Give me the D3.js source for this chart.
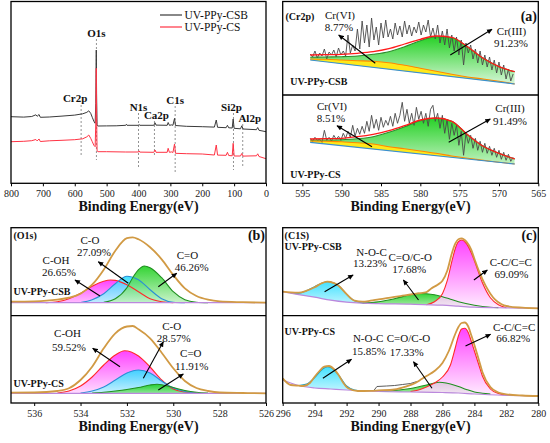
<!DOCTYPE html>
<html>
<head>
<meta charset="utf-8">
<script src="https://cdn.jsdelivr.net/npm/d3@7"></script>
<style>
body{margin:0;background:#fff}
svg{display:block}
</style>
</head>
<body>
<svg id="chart" width="550" height="443"></svg>
<script>
// ---------- survey spectrum [binding energy, intensity] ----------
var surveyTicks = [800, 700, 600, 500, 400, 300, 200, 100, 0];
var surveyCSB = [[800,66.6],[760,66.2],[735,66.8],[722,68.5],[718,67],[712,68.8],[708,66],[680,66.3],[640,67.2],[600,68.2],[575,69.5],[562,71],[556,72.5],[550,70],[545,66],[540,62],[536,60],[534,80],[532.5,133.3],[531.5,90],[530,58],[527,57.3],[500,57.4],[470,57.5],[440,58],[438,59],[436,58],[400,58],[398,58.8],[396,58],[352,58],[348,60.5],[345,58.2],[310,58],[307,60.8],[303,58],[296,58.4],[292,58],[287,64.9],[284,57.8],[250,57],[200,56.6],[162,56.2],[156,63.3],[152,56],[125,55.6],[121,58],[117,55.5],[106,55.3],[103,64.3],[100,55],[80,54.5],[76,57.5],[72,54.3],[30,53.6],[26,55.8],[22,53],[0,51.6]];
var surveyCS = [[800,41.6],[760,42],[735,42.6],[722,43.8],[718,42.4],[712,44.3],[708,41.8],[680,42.5],[640,43],[600,43.6],[575,44.5],[562,46.5],[556,48.3],[550,45],[545,41.6],[540,38],[536,36.6],[534,60],[532.5,115],[531.5,70],[530,32.5],[527,31.6],[500,31.6],[440,31.3],[400,31.3],[398,32.4],[396,31.2],[352,31],[348,33.3],[345,31],[310,31],[307,35],[303,31],[296,31.4],[292,30.8],[287,39.3],[284,30],[250,29.6],[200,29.3],[162,28.3],[156,38.3],[152,28.2],[125,28],[121,31],[117,27.8],[106,27.5],[103,40],[100,27.3],[80,27.3],[76,29.8],[72,27.2],[30,27.5],[26,29.5],[22,26.8],[0,24.6]];
var surveyPeakNames = ["Cr2p", "O1s", "N1s", "Ca2p", "C1s", "Si2p", "Al2p"];
var surveyPeakEnergy = [580, 532, 400, 350, 285, 102, 73];
var seriesNames = ["UV-PPy-CSB", "UV-PPy-CS"];

// ---------- Cr2p ----------
var crTicks = [595, 590, 585, 580, 575, 570, 565];
var crFitEnergy = [594, 592, 590, 588, 586, 584, 582, 580, 578, 576, 574, 572, 570, 568];
var crCSBEnvelope = [40, 40.3, 40.7, 41.7, 43.3, 46.3, 51, 55.7, 59, 57.7, 48.3, 36.7, 28.3, 23.3];
var crCSBCr3 = [37.7, 38, 38.3, 39, 40.7, 43.3, 48.3, 54.3, 58.3, 57.3, 48.3, 36.7, 28.3, 23.3];
var crCSBCr6 = [36, 35.7, 35, 34.3, 33.7, 32.3, 29.7, 26.7, 23.7, 20.7, 18, 16, 13.7, 11];
var crCSBBase = [[594, 35], [568, 11]];
var crCSEnvelope = [44.3, 44.6, 45, 46.6, 49, 52.6, 57.6, 63.3, 65.3, 62, 48.6, 37, 30, 24.3];
var crCSCr3 = [43.3, 43.3, 43.6, 44.6, 46.6, 51, 56.6, 62.6, 65.3, 62, 48.6, 37, 30, 24.3];
var crCSCr6 = [42.3, 42, 41.6, 40.6, 39.3, 36.6, 34.6, 32.3, 30, 27.3, 25, 23, 21, 19.3];
var crCSBase = [[594, 41], [568, 19.3]];
var crRawEnergy = [594.0,593.7,593.4,593.1,592.8,592.5,592.2,591.9,591.6,591.3,591.0,590.7,590.4,590.1,589.8,589.5,589.2,588.9,588.6,588.3,588.0,587.7,587.4,587.1,586.8,586.5,586.2,585.9,585.6,585.3,585.0,584.7,584.4,584.1,583.8,583.5,583.2,582.9,582.6,582.3,582.0,581.7,581.4,581.1,580.8,580.5,580.2,579.9,579.6,579.3,579.0,578.7,578.4,578.1,577.8,577.5,577.2,576.9,576.6,576.3,576.0,575.7,575.4,575.1,574.8,574.5,574.2,573.9,573.6,573.3,573.0,572.7,572.4,572.1,571.8,571.5,571.2,570.9,570.6,570.3,570.0,569.7,569.4,569.1,568.8,568.5,568.2];
var crCSBRaw = [41,38,44,37,42,39,46,36,43,40,45,38,47,40,44,39,60,42,50,44,66,46,74,52,70,48,77,55,68,50,72,57,75,58,66,56,72,60,69,58,74,61,70,59,68,62,73,60,70,63,75,58,67,56,70,52,64,50,66,47,60,44,58,40,55,30,52,42,50,36,46,32,44,30,40,28,38,25,35,22,33,20,30,16,26,14,21];
var crCSRaw = [45,42,46,43,44,41,53,43,46,42,48,44,47,43,50,45,52,46,58,47,55,49,57,50,62,52,68,55,64,53,66,56,63,58,67,57,70,60,68,81,62,74,60,70,58,76,64,72,60,70,57,74,78,62,70,55,68,50,64,44,60,48,58,38,52,28,50,40,48,35,45,33,42,31,40,30,37,28,35,26,33,24,31,23,29,22,26];

// ---------- O1s ----------
var o1sTicks = [536, 534, 532, 530, 528, 526];
var o1sCSBBase = [[537, 13], [526, 13]];
var o1sCSBEnvelope = [[537,14],[536,14.3],[535,16],[534.5,18],[534,22],[533.5,31],[533,46],[532.5,65],[532,77.5],[531.75,78.4],[531.5,76.4],[531,68.4],[530.5,56.4],[530,40.7],[529.5,27.3],[529,19.7],[528.5,16],[528,14.3],[527,13.5],[526,13]];
var o1sCSBCOH = [[535.5,13],[535,14],[534.5,17],[534,22.5],[533.5,29.5],[533,34.5],[532.7,35.7],[532.5,35.3],[532,31],[531.5,24],[531,17],[530.5,14],[530,13]];
var o1sCSBCO = [[534,13.2],[533.5,16],[533,22],[532.5,32],[532,39.5],[531.5,36],[531,26],[530.5,17],[530,13.5],[529.5,13]];
var o1sCSBCdO = [[533,13.5],[532.5,17],[532,28],[531.75,38],[531.5,46],[531.25,49.7],[531,48],[530.5,38],[530,24],[529.5,16],[529,13.5],[528.5,13]];
var o1sCSBase = [[537, 9.7], [526, 9.7]];
var o1sCSEnvelope = [[537,10.3],[536,10.5],[535,12],[534.5,14.7],[534,23],[533.5,36.3],[533,54.7],[532.5,69.7],[532,76.5],[531.75,77],[531.5,73.7],[531,64.7],[530.5,50.3],[530,34.7],[529.5,22],[529,15],[528.5,12],[528,10.5],[527,10],[526,9.7]];
var o1sCSCOH = [[535,10],[534.5,12],[534,17],[533.5,26],[533,38],[532.5,48],[532.1,52.3],[531.5,47],[531,36],[530.5,23],[530,14],[529.5,11],[529,10]];
var o1sCSCO = [[534,10],[533.5,12],[533,16],[532.5,23],[532,30],[531.5,33],[531,30],[530.5,22],[530,15],[529.5,11.5],[529,10]];
var o1sCSCdO = [[533.5,10],[533,10.8],[532.5,12],[532,13.5],[531.5,15.5],[531,18],[530.7,18.7],[530.5,18.3],[530,15.5],[529.5,12.5],[529,10.7],[528.5,10]];

// ---------- C1s ----------
var c1sTicks = [296, 294, 292, 290, 288, 286, 284, 282, 280];
var c1sCSBBase = [[296,24],[295,21],[294,18.5],[293,15.5],[292,13.5],[291,12.5],[290,12],[288,11.5],[286,10.5],[285,9.5],[284,8.5],[282,7.8],[280,7.3]];
var c1sCSBEnvelope = [[296,24],[295.5,23.3],[295,23],[294.5,25],[294,28.5],[293.5,32.8],[293.2,34],[293,33.7],[292.5,30],[292,21.5],[291.5,15],[291,14],[290.5,15],[290,16.3],[289.5,17.5],[289,18.8],[288.5,20],[288,21.2],[287.5,22.3],[287,23.5],[286.7,27.3],[286.3,31],[286,35],[285.7,45],[285.4,63],[285.2,72],[285,76.5],[284.8,77.3],[284.5,74],[284.2,66],[284,57],[283.7,44],[283.3,30],[283,22],[282.7,16],[282.3,11.5],[282,9.7],[281,8],[280,7.3]];
var c1sCSBNOC = [[295.5,22.6],[295,22.5],[294.5,25],[294,29],[293.5,33],[293.2,34],[293,33.7],[292.5,30],[292,21.5],[291.5,15],[291,12.8],[290.5,12.2]];
var c1sCSBCO = [[291,12.5],[290,14],[289,17],[288,21],[287.5,22.3],[287,22],[286.5,21],[286,19],[285.5,16.5],[285,14],[284,10.5],[283,8.5],[282.5,8.1]];
var c1sCSBCC = [[287,11],[286.5,14],[286,22],[285.7,35],[285.4,55],[285.2,67],[285,74],[284.8,75.7],[284.5,72],[284.2,63],[284,55],[283.5,33],[283,18],[282.5,11],[282,8]];
var c1sCSBase = [[296,23],[295.5,20],[295,17.5],[294,15],[293,14],[292,13],[290,11.5],[288,11],[286,10.5],[285,10],[284,9],[282,7.7],[280,7]];
var c1sCSEnvelope = [[296,24.7],[295.5,18],[295,17.3],[294.7,17],[294.3,20],[294,26.3],[293.7,32],[293.4,36.3],[293.1,37],[292.8,34],[292.5,28],[292.2,20],[291.9,14.7],[291.3,12],[290.5,12.2],[290,12.6],[289,13.5],[288.3,16.3],[287.7,20],[287.3,24],[287,27],[286.5,32],[286,40],[285.6,52],[285.2,69],[285,76],[284.8,80],[284.6,80.5],[284.4,77],[284.2,68],[284,58],[283.7,42],[283.5,31],[283,16],[282.5,10.5],[282,8.7],[281,7.5],[280,7]];
var c1sCSNOC = [[295,17.5],[294.5,19],[294,25.5],[293.5,34],[293.2,36.3],[293,35.5],[292.5,28],[292,17],[291.5,13],[291,12.3]];
var c1sCSCO = [[290,11.6],[289,12.5],[288,14.5],[287,18],[286.5,20],[286.2,20.7],[286,20.5],[285.5,19],[285,16.5],[284.5,13.5],[284,11],[283.5,9.8],[283,9]];
var c1sCSCC = [[288,11.5],[287.5,13],[287,16],[286.5,20],[286,26],[285.5,38],[285.2,55],[285,67],[284.8,74],[284.6,74.7],[284.4,71],[284.2,62],[284,52],[283.7,37],[283.5,27],[283,14],[282.5,9.5],[282,8]];
var c1sCSRaw = [[290.3,12.4],[290.1,16.5],[289.5,17],[289,17.5],[288.5,18.5],[288,19.5],[287.6,21.5]];

// ---------- setup ----------
var SERIF = "Liberation Serif, DejaVu Serif, Times New Roman, serif";
var svg = d3.select("#chart").attr("font-family", SERIF);
var defs = svg.append("defs");

function zip(xs, ys){ return xs.map(function(e, i){ return [e, ys[i]]; }); }

function gradient(id, color){
	var lg = defs.append("linearGradient").attr("id", id)
		.attr("x1", 0).attr("y1", 0).attr("x2", 0).attr("y2", 1);
	lg.append("stop").attr("offset", "0%").attr("stop-color", color);
	lg.append("stop").attr("offset", "100%").attr("stop-color", "#ffffff");
}
gradient("gPink", "#ff22ff");
gradient("gCyan", "#22dcff");
gradient("gGreen", "#10cc10");

defs.append("marker").attr("id", "arrow")
	.attr("viewBox", "0 0 10 10").attr("refX", 9).attr("refY", 5)
	.attr("markerWidth", 5.5).attr("markerHeight", 5).attr("orient", "auto")
	.append("path").attr("d", "M0,0.5L10,5L0,9.5Z").attr("fill", "#000");

function txt(s, x, y, o){
	o = o || {};
	return svg.append("text").attr("x", x).attr("y", y)
		.attr("font-family", SERIF)
		.attr("font-size", o.size || 11)
		.attr("font-weight", o.bold ? "bold" : "normal")
		.attr("text-anchor", o.anchor || "middle")
		.attr("fill", "#111")
		.text(s);
}

function arrow(a){
	svg.append("line").attr("x1", a[0]).attr("y1", a[1]).attr("x2", a[2]).attr("y2", a[3])
		.attr("stroke", "#000").attr("stroke-width", 1.1).attr("marker-end", "url(#arrow)");
}

function bottomAxis(x, yPos, ticks){
	var g = svg.append("g").attr("transform", "translate(0," + yPos + ")")
		.call(d3.axisBottom(x).tickValues(ticks).tickSize(3).tickSizeOuter(0).tickPadding(4));
	g.attr("font-family", SERIF);
	g.select(".domain").remove();
	g.selectAll("line").attr("stroke", "#000");
	g.selectAll("text").attr("font-size", 10).attr("fill", "#222").attr("font-family", SERIF);
}

function frame(x0, y0, x1, y1, divider){
	svg.append("rect").attr("x", x0).attr("y", y0).attr("width", x1 - x0).attr("height", y1 - y0)
		.attr("fill", "none").attr("stroke", "#000").attr("stroke-width", 1.3);
	if (divider) svg.append("line").attr("x1", x0).attr("x2", x1).attr("y1", divider).attr("y2", divider)
		.attr("stroke", "#000").attr("stroke-width", 1.3);
}

// one fitted sub-spectrum: fills clipped above the baseline, then lines
var clipCount = 0;
function drawFit(x, y, top, bottom, base, comps, env, envStyle, raw){
	var id = "clip" + (clipCount++);
	var smooth = d3.curveMonotoneX;
	defs.append("clipPath").attr("id", id).append("path")
		.attr("d", d3.area().x(function(d){return x(d[0]);}).y0(top).y1(function(d){return y(d[1]);}).curve(smooth)(base));
	var area = d3.area().x(function(d){return x(d[0]);}).y0(bottom).y1(function(d){return y(d[1]);}).curve(smooth);
	var line = d3.line().x(function(d){return x(d[0]);}).y(function(d){return y(d[1]);}).curve(smooth);

	comps.forEach(function(c){
		svg.append("path").attr("d", area(c.pts)).attr("fill", c.fill)
			.attr("fill-opacity", c.opacity || 0.85).attr("clip-path", "url(#" + id + ")");
	});
	if (raw) {
		svg.append("path").attr("d", d3.line().x(function(d){return x(d[0]);}).y(function(d){return y(d[1]);})(raw))
			.attr("fill", "none").attr("stroke", "#4a4a4a").attr("stroke-width", 0.9);
	}
	comps.forEach(function(c){
		svg.append("path").attr("d", line(c.pts)).attr("fill", "none")
			.attr("stroke", c.stroke).attr("stroke-width", 1.1);
	});
	svg.append("path").attr("d", line(base)).attr("fill", "none")
		.attr("stroke", envStyle.base).attr("stroke-width", 1.2);
	svg.append("path").attr("d", line(env)).attr("fill", "none")
		.attr("stroke", envStyle.color).attr("stroke-width", envStyle.width);
}

// ---------- survey panel ----------
var sx = d3.scaleLinear().domain([800, 0]).range([11, 266]);
var sy = d3.scaleLinear().domain([0, 181.3]).range([183.3, 2]);
var surveyLayout = [
	{dx: -6, ty: 102, y1: 105, y2: 157},
	{dx: 0, ty: 37, y1: 39, y2: 160},
	{dx: 0, ty: 111, y1: 113, y2: 168},
	{dx: 2, ty: 119, y1: 121, y2: 157},
	{dx: 0, ty: 104, y1: 106, y2: 172},
	{dx: -2, ty: 111, y1: 113, y2: 170},
	{dx: 7, ty: 122, y1: 124, y2: 166}
];
surveyPeakEnergy.forEach(function(e, i){
	var L = surveyLayout[i];
	svg.append("line").attr("x1", sx(e)).attr("x2", sx(e)).attr("y1", L.y1).attr("y2", L.y2)
		.attr("stroke", "#777").attr("stroke-width", 0.8).attr("stroke-dasharray", "2,2");
	txt(surveyPeakNames[i], sx(e) + L.dx, L.ty, {bold: true, size: 11});
});
var sline = d3.line().x(function(d){return sx(d[0]);}).y(function(d){return sy(d[1]);});
var surveyColors = ["#3a3a3a", "#ff3344"];
[surveyCSB, surveyCS].forEach(function(s, i){
	svg.append("path").attr("d", sline(s)).attr("fill", "none")
		.attr("stroke", surveyColors[i]).attr("stroke-width", 1);
});
seriesNames.forEach(function(n, i){
	var ly = 15 + i * 12;
	svg.append("line").attr("x1", 160).attr("x2", 182).attr("y1", ly).attr("y2", ly)
		.attr("stroke", surveyColors[i]).attr("stroke-width", 1.2);
	txt(n, 184.5, ly + 4, {anchor: "start", size: 11.5});
});
bottomAxis(sx, 183.3, surveyTicks);
frame(11, 1.5, 266, 183.3);
txt("Binding Energy(eV)", 138.5, 211, {bold: true, size: 14});

// ---------- Cr2p panel ----------
var cx = d3.scaleLinear().domain([597.5, 565]).range([282.7, 538.3]);
var crTopY = d3.scaleLinear().domain([0, 93.5]).range([95, 1.5]);
var crBotY = d3.scaleLinear().domain([0, 88.3]).range([183.3, 95]);
var crStyle = {color: "#ff1a1a", width: 1.3, base: "#3a8fd0"};
drawFit(cx, crTopY, 1.5, 95, crCSBBase, [
	{pts: zip(crFitEnergy, crCSBCr3), fill: "url(#gGreen)", stroke: "#2c8c2c", opacity: 0.9},
	{pts: zip(crFitEnergy, crCSBCr6), fill: "#ffe81a", stroke: "#ff8800", opacity: 1}
], zip(crFitEnergy, crCSBEnvelope), crStyle, zip(crRawEnergy, crCSBRaw));
drawFit(cx, crBotY, 95, 183.3, crCSBase, [
	{pts: zip(crFitEnergy, crCSCr3), fill: "url(#gGreen)", stroke: "#2c8c2c", opacity: 0.9},
	{pts: zip(crFitEnergy, crCSCr6), fill: "#ffe81a", stroke: "#ff8800", opacity: 1}
], zip(crFitEnergy, crCSEnvelope), crStyle, zip(crRawEnergy, crCSRaw));
bottomAxis(cx, 183.3, crTicks);
frame(282.7, 1.5, 538.3, 183.3, 95);
txt("Binding Energy(eV)", 410.5, 211, {bold: true, size: 14});

var crLabels = [
	["(Cr2p)", 285.5, 19.5, {bold: true, size: 10, anchor: "start"}],
	["(a)", 537, 21, {bold: true, size: 14, anchor: "end"}],
	["Cr(VI)", 340, 18.5], ["8.77%", 339, 30.5],
	["Cr(III)", 511.5, 35], ["91.23%", 511, 47],
	[seriesNames[0], 290.3, 85, {bold: true, size: 10, anchor: "start"}],
	["Cr(VI)", 332, 109.5], ["8.51%", 331, 122],
	["Cr(III)", 510, 112], ["91.49%", 510, 124.5],
	[seriesNames[1], 290.3, 177.5, {bold: true, size: 10, anchor: "start"}]
];
var crArrows = [[375.3, 63.3, 338.7, 35], [450.3, 55, 492, 29.3], [372, 146.7, 337, 125.7], [448.7, 142.3, 490.3, 119]];

// ---------- O1s panel ----------
var ox = d3.scaleLinear().domain([537, 526]).range([11, 266]);
var oTopY = d3.scaleLinear().domain([0, 88]).range([315.7, 227.7]);
var oBotY = d3.scaleLinear().domain([0, 87.3]).range([403, 315.7]);
var fitStyle = {color: "#d19a44", width: 1.8, base: "#bb88dd"};
drawFit(ox, oTopY, 227.7, 315.7, o1sCSBBase, [
	{pts: o1sCSBCOH, fill: "url(#gPink)", stroke: "#ff2a2a"},
	{pts: o1sCSBCO, fill: "url(#gCyan)", stroke: "#2a8fd6"},
	{pts: o1sCSBCdO, fill: "url(#gGreen)", stroke: "#1f8f1f"}
], o1sCSBEnvelope, fitStyle);
drawFit(ox, oBotY, 315.7, 403, o1sCSBase, [
	{pts: o1sCSCOH, fill: "url(#gPink)", stroke: "#ff2a2a"},
	{pts: o1sCSCO, fill: "url(#gCyan)", stroke: "#2a8fd6"},
	{pts: o1sCSCdO, fill: "url(#gGreen)", stroke: "#1f8f1f"}
], o1sCSEnvelope, fitStyle);
bottomAxis(ox, 403, o1sTicks);
frame(11, 227.7, 266, 403, 315.7);
txt("Binding Energy(eV)", 138.5, 431, {bold: true, size: 14});

var oLabels = [
	["(O1s)", 13.5, 238.5, {bold: true, size: 10, anchor: "start"}],
	["(b)", 265, 240, {bold: true, size: 14, anchor: "end"}],
	["C-O", 90, 244], ["27.09%", 94, 255.5],
	["C-OH", 56, 264], ["26.65%", 59, 275.5],
	["C=O", 187.5, 259], ["46.26%", 191.7, 270.5],
	[seriesNames[0], 13.5, 295, {bold: true, size: 10, anchor: "start"}],
	["C-OH", 67.5, 337], ["59.52%", 69, 350.5],
	["C-O", 171.7, 330], ["28.57%", 173.7, 341.5],
	["C=O", 190.8, 357], ["11.91%", 191.7, 370],
	[seriesNames[1], 13.5, 387, {bold: true, size: 10, anchor: "start"}]
];
var oArrows = [[100, 296, 75, 280], [128.3, 283.3, 98.3, 261.7], [158.3, 286.7, 176.7, 273.3],
	[120, 366.7, 92.7, 348.3], [143.3, 378.3, 163.3, 341.7], [158.3, 390, 183.3, 374]];

// ---------- C1s panel ----------
var kx = d3.scaleLinear().domain([296, 280]).range([282.7, 538.3]);
drawFit(kx, oTopY, 227.7, 315.7, c1sCSBBase, [
	{pts: c1sCSBNOC, fill: "url(#gCyan)", stroke: "#1a9fbf"},
	{pts: c1sCSBCO, fill: "url(#gGreen)", stroke: "#1f8f1f"},
	{pts: c1sCSBCC, fill: "url(#gPink)", stroke: "#ff2a2a"}
], c1sCSBEnvelope, fitStyle);
drawFit(kx, oBotY, 315.7, 403, c1sCSBase, [
	{pts: c1sCSNOC, fill: "url(#gCyan)", stroke: "#1a9fbf"},
	{pts: c1sCSCO, fill: "url(#gGreen)", stroke: "#1f8f1f"},
	{pts: c1sCSCC, fill: "url(#gPink)", stroke: "#ff2a2a"}
], c1sCSEnvelope, fitStyle, c1sCSRaw);
bottomAxis(kx, 403, c1sTicks);
frame(282.7, 227.7, 538.3, 403, 315.7);
txt("Binding Energy(eV)", 410.5, 431, {bold: true, size: 14});

var cLabels = [
	["(C1S)", 284.6, 238.5, {bold: true, size: 10, anchor: "start"}],
	["(c)", 537, 240, {bold: true, size: 14, anchor: "end"}],
	[seriesNames[0], 284.6, 250, {bold: true, size: 10, anchor: "start"}],
	["N-O-C", 371.6, 255.5], ["13.23%", 369.9, 267],
	["C=O/C-O", 410.2, 260.5], ["17.68%", 409.1, 273],
	["C-C/C=C", 510.8, 265.5], ["69.09%", 511.4, 278],
	[seriesNames[1], 284.6, 335, {bold: true, size: 10, anchor: "start"}],
	["N-O-C", 368.2, 342], ["15.85%", 368.9, 354.5],
	["C=O/C-O", 408.5, 342], ["17.33%", 406.8, 355.5],
	["C-C/C=C", 514.1, 330.5], ["66.82%", 513.1, 342]
];
var cArrows = [[324.6, 291.7, 353.1, 275], [418.5, 300, 403.4, 280], [473.9, 280, 487.3, 270],
	[322.9, 378.3, 351.5, 359.3], [432, 388.3, 413.5, 361.7], [465.5, 346, 490.6, 334.3]];

crLabels.concat(oLabels, cLabels).forEach(function(l){ txt(l[0], l[1], l[2], l[3]); });
crArrows.concat(oArrows, cArrows).forEach(arrow);
</script>
</body>
</html>
